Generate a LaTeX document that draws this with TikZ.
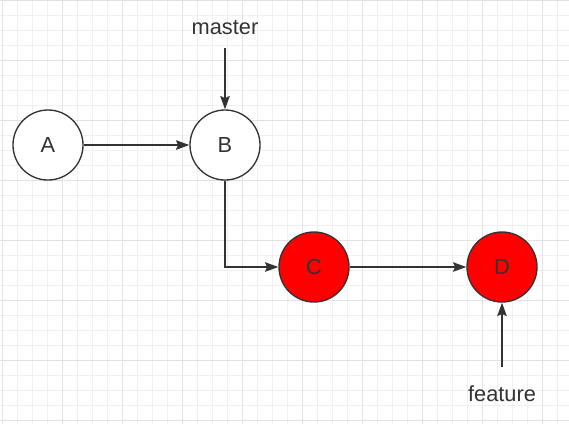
\documentclass[tikz,border=0pt]{standalone}
\usepackage{fontspec}
\setmainfont{Liberation Sans}
\usetikzlibrary{positioning, calc, arrows.meta}
\definecolor{gridminor}{HTML}{F0F0F0}
\definecolor{gridmajor}{HTML}{E2E2E2}
\definecolor{edgegray}{HTML}{333333}
\tikzset{
    commit node/.style={circle, draw=edgegray, line width=0.95pt, minimum size=1.75cm, inner sep=0pt, text=edgegray, font=\fontsize{15.5}{18}\selectfont, fill=white},
    head node/.style={commit node, fill=red},
    branch label/.style={text=edgegray, inner sep=1pt, font=\fontsize{15.5}{18}\selectfont},
    commit edge/.style={-{Stealth[length=9.5pt, width=6.8pt, inset=1.5pt]}, line width=0.95pt, draw=edgegray},
}

\begin{document}
\begin{tikzpicture}[x=0.025cm, y=-0.025cm]
            \useasboundingbox (0,0) rectangle (569,424);
            % grid paper
            \foreach \gx in {2.5,17.5,...,569} \draw[gridminor, line width=0.7pt] (\gx,0) -- (\gx,424);
            \foreach \gy in {0.7,15.7,...,424} \draw[gridminor, line width=0.7pt] (0,\gy) -- (569,\gy);
            \foreach \gx in {2.5,62.5,...,569} \draw[gridmajor, line width=0.7pt] (\gx,0) -- (\gx,424);
            \foreach \gy in {0.7,60.7,...,424} \draw[gridmajor, line width=0.7pt] (0,\gy) -- (569,\gy);
            % commits
            \node[commit node] (a) at (48,145) {A};
            \node[commit node] (b) at (225,145) {B};
            \node[head node] (c) at (314,267) {C};
            \node[head node] (d) at (502,267) {D};
            % branches
            \node[branch label] (master) at (225,28) {master};
            \node[branch label] (feature) at (502,394) {feature};
            \coordinate (master tail) at (225,48);
            \coordinate (feature tail) at (502,367);
            \path
            (a) edge[commit edge] (b)
            (c) edge[commit edge] (d)
            (master tail) edge[commit edge] (b)
            (feature tail) edge[commit edge] (d);
            \draw[commit edge] (b) |- (c);
        \end{tikzpicture}
\end{document}
